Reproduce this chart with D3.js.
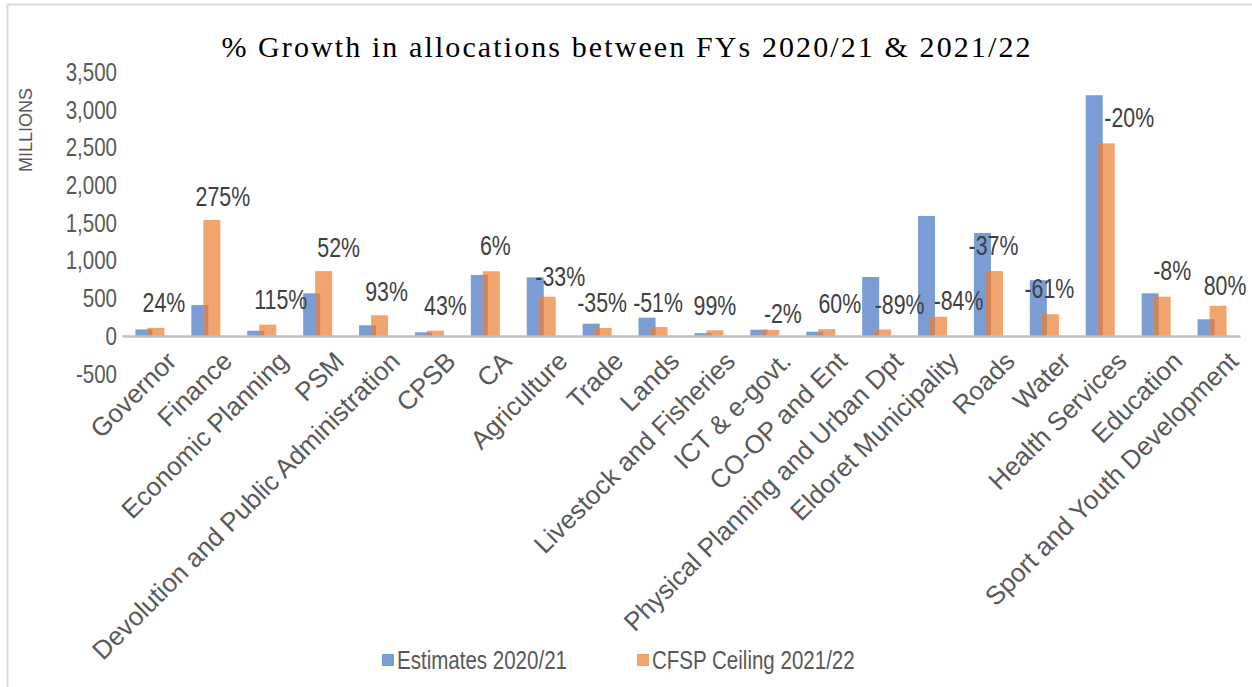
<!DOCTYPE html>
<html>
<head>
<meta charset="utf-8">
<script src="https://cdn.jsdelivr.net/npm/d3@7"></script>
<style>
  body { margin: 0; background: #fff; }
  svg { display: block; }
</style>
</head>
<body>
<script>
// departments on the x axis
const departments = ["Governor", "Finance", "Economic Planning", "PSM",
  "Devolution and Public Administration", "CPSB", "CA", "Agriculture", "Trade",
  "Lands", "Livestock and Fisheries", "ICT & e-govt.", "CO-OP and Ent",
  "Physical Planning and Urban Dpt", "Eldoret Municipality", "Roads", "Water",
  "Health Services", "Education", "Sport and Youth Development"]

// millions
const estimates2021 = [88, 410, 70, 566, 142, 49, 810, 778, 163, 243, 38, 84, 57, 782, 1592, 1366, 740, 3192, 566, 222]
const ceiling2122 = [109, 1538, 151, 860, 274, 70, 858, 521, 106, 119, 76, 82, 91, 86, 255, 861, 289, 2554, 521, 400]
const growthLabels = ["24%", "275%", "115%", "52%", "93%", "43%", "6%", "-33%", "-35%", "-51%", "99%",
  "-2%", "60%", "-89%", "-84%", "-37%", "-61%", "-20%", "-8%", "80%"]
// where the % labels sit (value units, like excel's hand placed labels)
const labelLevel = [451, 1857, 491, 1180, 597, 411, 1207, 796, 451, 451, 411, 305, 438, 424, 477, 1207, 637, 2905, 875, 676]
const yTicks = [-500, 0, 500, 1000, 1500, 2000, 2500, 3000, 3500]
const seriesNames = ["Estimates 2020/21", "CFSP Ceiling 2021/22"]

// layout bits (px)
const labelDx = [14, 17, 19, 21, 13, 16, 10, 19, 5, 5, 6, 18, 19, 23, 26, 5, 5, 29, 16, 13]
const width = 1252, height = 687
const blue = "#7b9dd6", orange = "#f1a46d", overlapCol = "#c98660"
const sans = "'Liberation Sans', Arial, sans-serif"
const narrow = 0.79 // numbers look like a narrow arial

const svg = d3.select("body").append("svg")
  .attr("width", width)
  .attr("height", height)

// outer frame (only top + left visible in the crop)
svg.append("path")
  .attr("d", "M7.5," + height + " V4.5 H" + width)
  .attr("fill", "none")
  .attr("stroke", "#d9d9d9")
  .attr("stroke-width", 2)

svg.append("text")
  .attr("x", 627).attr("y", 57)
  .attr("text-anchor", "middle")
  .style("font-family", "'Liberation Serif', 'Times New Roman', serif")
  .style("font-size", "30px")
  .style("letter-spacing", "2.1px")
  .attr("fill", "#000")
  .text("% Growth in allocations between FYs 2020/21 & 2021/22")

const x = d3.scaleBand().domain(departments).range([122, 1240])
const y = d3.scaleLinear().domain([0, 3500]).range([336, 72])
const bw = x.bandwidth()
const barW = 17, shift = 2.5

// y axis labels
const fmt = d3.format(",")
const yAxis = d3.axisLeft(y).tickValues(yTicks).tickFormat((d) => fmt(d).replace("−", "-")).tickSize(0).tickPadding(0)
const gy = svg.append("g").attr("transform", "translate(117,0)").call(yAxis)
gy.select(".domain").remove()
gy.selectAll("text")
  .attr("transform", "scale(" + narrow + ",1)")
  .style("font-family", sans)
  .style("font-size", "26px")
  .attr("fill", "#595959")

svg.append("text")
  .attr("transform", "translate(32,130) rotate(-90)")
  .attr("text-anchor", "middle")
  .style("font-family", sans)
  .style("font-size", "18px")
  .attr("fill", "#595959")
  .text("MILLIONS")

const groups = svg.selectAll("g.dept")
  .data(departments)
  .enter().append("g")
  .attr("class", "dept")

groups.append("rect")
  .attr("x", (d) => x(d) + bw / 2 - shift - barW + 5)
  .attr("y", (d, i) => y(estimates2021[i]))
  .attr("width", barW)
  .attr("height", (d, i) => y(0) - y(estimates2021[i]))
  .attr("fill", blue)

groups.append("rect")
  .attr("x", (d) => x(d) + bw / 2 - shift)
  .attr("y", (d, i) => y(ceiling2122[i]))
  .attr("width", barW)
  .attr("height", (d, i) => y(0) - y(ceiling2122[i]))
  .attr("fill", orange)

// darker strip where the two bars overlap
groups.append("rect")
  .attr("x", (d) => x(d) + bw / 2 - shift)
  .attr("y", (d, i) => y(Math.min(estimates2021[i], ceiling2122[i])))
  .attr("width", 5)
  .attr("height", (d, i) => y(0) - y(Math.min(estimates2021[i], ceiling2122[i])))
  .attr("fill", overlapCol)

// zero line
const xAxis = d3.axisBottom(x).tickSize(0).tickFormat("")
const gx = svg.append("g").attr("transform", "translate(0," + y(0) + ")").call(xAxis)
gx.select(".domain").attr("stroke", "#bfbfbf").attr("stroke-width", 2.5)

// category labels, rotated
svg.selectAll("text.cat")
  .data(departments)
  .enter().append("text")
  .attr("class", "cat")
  .attr("transform", (d) => "translate(" + (x(d) + bw / 2 + 15) + ",350) rotate(-45)")
  .attr("text-anchor", "end")
  .attr("dy", "0.7em")
  .style("font-family", sans)
  .style("font-size", "26px")
  .attr("fill", "#595959")
  .text((d) => d)

// growth labels
svg.selectAll("text.pct")
  .data(growthLabels)
  .enter().append("text")
  .attr("class", "pct")
  .attr("transform", (d, i) => "translate(" + (x(departments[i]) + bw / 2 + labelDx[i]) + "," + y(labelLevel[i]) + ") scale(" + narrow + ",1)")
  .attr("dy", "0.36em")
  .attr("text-anchor", "middle")
  .style("font-family", sans)
  .style("font-size", "27px")
  .attr("fill", "#404040")
  .text((d) => d)

// legend
const legend = svg.append("g").attr("transform", "translate(382,660)")
const legX = [0, 255]
seriesNames.forEach((n, i) => {
  legend.append("rect").attr("x", legX[i]).attr("y", -6).attr("width", 12).attr("height", 12)
    .attr("fill", i == 0 ? blue : orange)
  legend.append("text")
    .attr("transform", "translate(" + (legX[i] + 15) + ",0) scale(" + narrow + ",1)")
    .attr("dy", "0.36em")
    .style("font-family", sans)
    .style("font-size", "26px")
    .attr("fill", "#595959")
    .text(n)
})
</script>
</body>
</html>
